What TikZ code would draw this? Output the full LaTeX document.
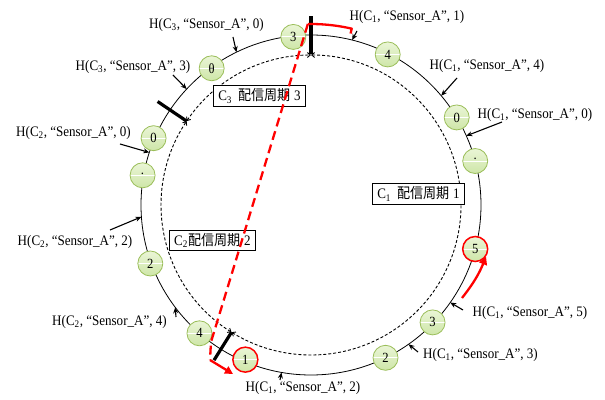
\documentclass[tikz,border=0pt]{standalone}
\usepackage{fontspec}
\setmainfont{Liberation Serif}[FakeStretch=0.9]
\newfontfamily\jpfont{Noto Sans CJK JP}[FakeStretch=0.9]
\usetikzlibrary{arrows.meta,calc}

\definecolor{slottop}{RGB}{234,245,214}
\definecolor{slotbot}{RGB}{206,230,168}
\definecolor{slotedge}{RGB}{155,190,90}

\tikzset{
	slot/.style={circle, draw=slotedge, line width=0.8pt, top color=slottop, bottom color=slotbot,
		minimum size=25pt, inner sep=0pt, font=\fontsize{14}{14}\selectfont,
		path picture={\draw[white, line width=0.9pt] (path picture bounding box.west) -- (path picture bounding box.east);}},
	hotslot/.style={slot, draw=red, line width=1.5pt},
	hlabel/.style={inner sep=0pt, font=\fontsize{14.5}{17}\selectfont},
	pointer/.style={-{Stealth[length=6pt,width=5pt]}, line width=1.1pt},
	period/.style={densely dashed, line width=0.9pt, {Straight Barb[length=3pt,width=5pt]}-{Straight Barb[length=3pt,width=5pt]}},
	boundary/.style={line width=3.2pt},
	pbox/.style={draw, line width=1.2pt, fill=white, inner xsep=5pt, inner ysep=3pt, font=\fontsize{14.5}{17}\selectfont},
	jump/.style={red, line width=2.3pt}
}

\begin{document}
\begin{tikzpicture}[x=1pt, y=1pt]
	%%%%% START %%%%%
	\useasboundingbox (-311,-194) rectangle (294,205);
	
	% ring, delivery periods and their boundaries
	\draw[line width=0.8pt] (0,0) circle[radius=170];
	\draw[period] (90:150) arc[start angle=90, end angle=-122, radius=150];
	\draw[period] (238:150) arc[start angle=238, end angle=146, radius=150];
	\draw[period] (146:150) arc[start angle=146, end angle=90, radius=150];
	
	\draw[boundary] (90:151) -- (90:189);
	\draw[boundary] (146:150) -- (146:185);
	\draw[boundary] (238:150) -- (238:183);
	
	% slots on the ring
	\node[slot] (s3t) at (96:169) {3};
	\node[slot] (s4t) at (63:169) {4};
	\node[slot] (s0r) at (31:170) {0};
	\node[slot] (sdr) at (15:170) {\textperiodcentered};
	\node[hotslot] (s5r) at (-15:170) {5};
	\node[slot] (s3r) at (-44:169) {3};
	\node[slot] (s2r) at (-64:170) {2};
	\node[hotslot] (s1b) at (247:168) {1};
	\node[slot] (s4l) at (229:170) {4};
	\node[slot] (s2l) at (200:171) {2};
	\node[slot] (sdl) at (170:171) {\textperiodcentered};
	\node[slot] (s0l) at (157:171) {0};
	\node[slot] (sth) at (126:169) {θ};
	
	\node[pbox] (per3) at (-51.5,109) {C\textsubscript{3}\hspace{6pt}{\jpfont 配信周期}\hspace{4pt}3};
	\node[pbox] (per2) at (-98.5,-35.5) {C\textsubscript{2}{\jpfont 配信周期}\hspace{4pt}2};
	\node[pbox] (per1) at (107.5,11) {C\textsubscript{1}\hspace{6pt}{\jpfont 配信周期}\hspace{4pt}1};
	
	% hash positions
	\coordinate (p30) at (116:170);
	\coordinate (p33) at (137:170);
	\coordinate (p20) at (162:170);
	\coordinate (p22) at (184:170);
	\coordinate (p24) at (217:170);
	\coordinate (p12) at (260:170);
	\coordinate (p13) at (-55:170);
	\coordinate (p15) at (-35:170);
	\coordinate (p10) at (24:170);
	\coordinate (p14) at (40:170);
	\coordinate (p11) at (76:170);
	
	\node[hlabel] (h30) at (-104.5,180) {H(C\textsubscript{3}, “Sensor\_A”, 0)};
	\node[hlabel] (h33) at (-178,138) {H(C\textsubscript{3}, “Sensor\_A”, 3)};
	\node[hlabel] (h20) at (-237.5,72) {H(C\textsubscript{2}, “Sensor\_A”, 0)};
	\node[hlabel] (h22) at (-236,-37) {H(C\textsubscript{2}, “Sensor\_A”, 2)};
	\node[hlabel] (h24) at (-201.5,-117) {H(C\textsubscript{2}, “Sensor\_A”, 4)};
	\node[hlabel] (h12) at (-8,-183) {H(C\textsubscript{1}, “Sensor\_A”, 2)};
	\node[hlabel] (h13) at (169.5,-150) {H(C\textsubscript{1}, “Sensor\_A”, 3)};
	\node[hlabel] (h15) at (219,-108) {H(C\textsubscript{1}, “Sensor\_A”, 5)};
	\node[hlabel] (h10) at (224,90) {H(C\textsubscript{1}, “Sensor\_A”, 0)};
	\node[hlabel] (h14) at (176,139) {H(C\textsubscript{1}, “Sensor\_A”, 4)};
	\node[hlabel] (h11) at (96,188) {H(C\textsubscript{1}, “Sensor\_A”, 1)};
	
	\draw[pointer] ([shift={(26.5,-12)}]h30.center) -- (p30);
	\draw[pointer] ([shift={(40,-8)}]h33.center) -- (p33);
	\draw[pointer] ([shift={(46.5,-11)}]h20.center) -- (p20);
	\draw[pointer] ([shift={(35,12)}]h22.center) -- (p22);
	\draw[pointer] ([shift={(66.5,5)}]h24.center) -- (p24);
	\draw[pointer] ([shift={(-23,8)}]h12.center) -- (p12);
	\draw[pointer] ([shift={(-62.5,3)}]h13.center) -- (p13);
	\draw[pointer] ([shift={(-67,3)}]h15.center) -- (p15);
	\draw[pointer] ([shift={(-33,-7)}]h10.center) -- (p10);
	\draw[pointer] ([shift={(-30,-12)}]h14.center) -- (p14);
	\draw[pointer] ([shift={(-50,-14)}]h11.center) -- (p11);
	
	% wrap-around path in red
	\coordinate (jumpA) at (77:176);
	\coordinate (jumpB) at (91:181);
	\coordinate (jumpC) at (-101,-155);
	\coordinate (jumpD) at (-78,-169);
	\draw[jump, line join=round] (jumpA) -- (77:181) arc[start angle=77, end angle=91, radius=181];
	\draw[jump, dash pattern=on 9pt off 5pt] (jumpB) -- (-100,-137) -- (jumpC);
	\draw[jump, -{Triangle[length=8pt,width=8pt]}] (jumpC) -- (jumpD);
	\draw[jump, -{Triangle[length=8pt,width=8pt]}] ([shift={(-68,15)}]h15.center) to[bend right=8] (s5r.-35);
	
	%%%%% END %%%%%
\end{tikzpicture}
\end{document}
